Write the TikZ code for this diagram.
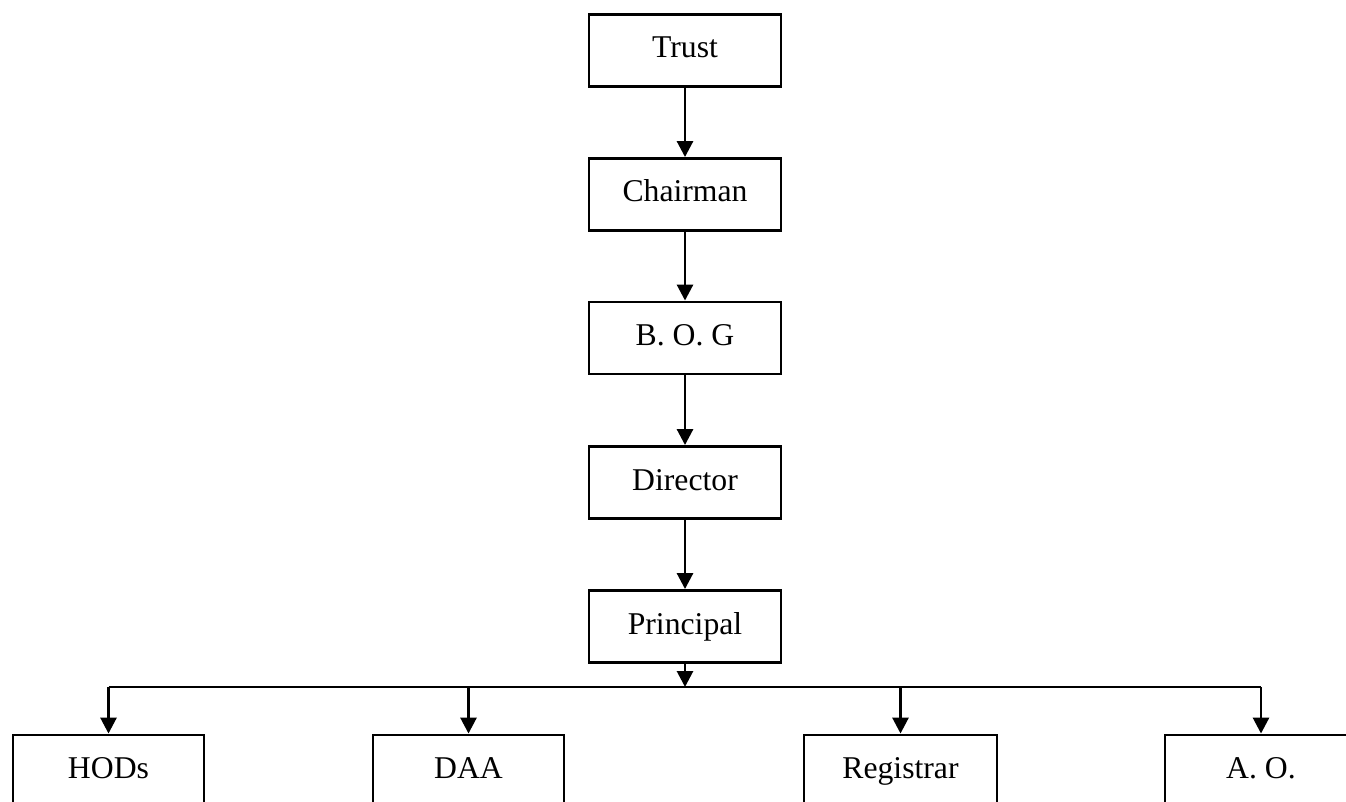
\documentclass[tikz,border=0pt]{standalone}
\usepackage{fontspec}
\setmainfont{Liberation Serif}
\usetikzlibrary{arrows.meta}
\begin{document}
\begin{tikzpicture}[x=1pt,y=-1pt,
  box/.style={draw, line width=2.9pt, rectangle, minimum width=192pt, minimum height=72pt,
    inner sep=0pt, text height=24pt, text depth=9pt,
    font=\fontsize{31.7}{38}\selectfont},
  conn/.style={line width=2.9pt},
  arr/.style={conn, -{Triangle[length=16pt,width=16pt]}}]
\clip (0,0) rectangle (1346,802);
\fill[white] (0,0) rectangle (1346,802);
\node[box] (trust) at (685,50.5) {Trust};
\node[box] (chair) at (685,194.5) {Chairman};
\node[box] (bog) at (685,338) {B. O. G};
\node[box] (dir) at (685,482.5) {Director};
\node[box] (prin) at (685,626.5) {Principal};
\node[box, minimum width=191pt] (hods) at (108.5,771) {HODs};
\node[box, minimum width=191pt] (daa) at (468.5,771) {DAA};
\node[box, minimum width=193pt] (reg) at (900.5,771) {Registrar};
\node[box] (ao) at (1261,771) {A. O.};
\coordinate (junc) at (685,687);
\draw[arr] (trust) -- (chair);
\draw[arr] (chair) -- (bog);
\draw[arr] (bog) -- (dir);
\draw[arr] (dir) -- (prin);
\draw[arr] (prin) -- (junc);
\draw[conn] (hods.north |- junc) -- (ao.north |- junc);
\draw[arr] (hods.north |- junc) -- (hods);
\draw[arr] (daa.north |- junc) -- (daa);
\draw[arr] (reg.north |- junc) -- (reg);
\draw[arr] (ao.north |- junc) -- (ao);
\end{tikzpicture}
\end{document}
